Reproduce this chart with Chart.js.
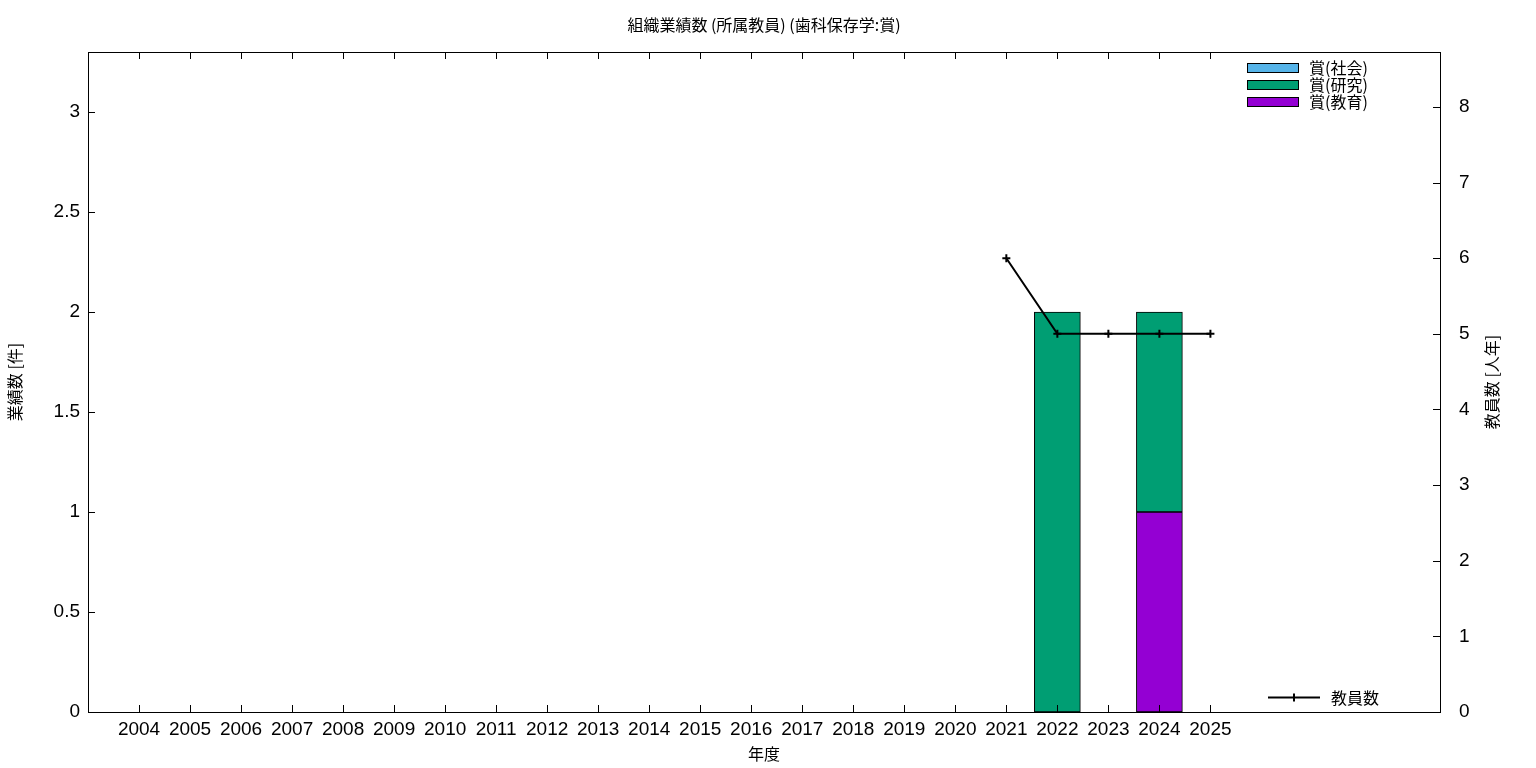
<!DOCTYPE html>
<html>
<head>
<meta charset="utf-8">
<title>組織業績数</title>
<script src="https://cdn.jsdelivr.net/npm/chart.js@4.4.1/dist/chart.umd.min.js"></script>
<style>
  html, body { margin: 0; padding: 0; background: #fff; }
  #wrap { width: 1536px; height: 768px; }
</style>
</head>
<body>
<div id="wrap"><canvas id="grafico"></canvas></div>
<script>
// Datos del gráfico
const anios = [2004, 2005, 2006, 2007, 2008, 2009, 2010, 2011, 2012, 2013, 2014,
               2015, 2016, 2017, 2018, 2019, 2020, 2021, 2022, 2023, 2024, 2025];
const premioSocial    = [0, 0, 0, 0, 0, 0, 0, 0, 0, 0, 0, 0, 0, 0, 0, 0, 0, 0, 0, 0, 0, 0];
const premioInvest    = [0, 0, 0, 0, 0, 0, 0, 0, 0, 0, 0, 0, 0, 0, 0, 0, 0, 0, 2, 0, 1, 0];
const premioEducacion = [0, 0, 0, 0, 0, 0, 0, 0, 0, 0, 0, 0, 0, 0, 0, 0, 0, 0, 0, 0, 1, 0];
const profesores = [null, null, null, null, null, null, null, null, null, null, null,
                    null, null, null, null, null, null, 6, 5, 5, 5, 5];
const ticksIzq = [0, 0.5, 1, 1.5, 2, 2.5, 3];
const ticksDer = [0, 1, 2, 3, 4, 5, 6, 7, 8];

const FUENTE = "'Liberation Sans', 'Noto Sans CJK JP', sans-serif";
const FUENTE_JP = "'Noto Sans CJK JP', sans-serif";

// Pasar un arreglo a puntos {x, y}, omitiendo los vacíos
function puntos(valores, omitirCeros) {
    return anios.map((a, i) => ({ x: a, y: valores[i] }))
        .filter(p => p.y !== null && !(omitirCeros && p.y === 0));
}

const series = [
    { nombre: '賞(社会)', valores: premioSocial, color: '#56b4e9' },
    { nombre: '賞(研究)', valores: premioInvest, color: '#009e73' },
    { nombre: '賞(教育)', valores: premioEducacion, color: '#9400d3' }
];

// Marco, marcas hacia adentro, leyendas y título del eje derecho
const marcoPlugin = {
    id: 'marco',
    afterDraw(chart) {
        const ctx = chart.ctx;
        const a = chart.chartArea;
        const x = chart.scales.x, y = chart.scales.y, y2 = chart.scales.y2;
        ctx.save();
        ctx.strokeStyle = '#000';
        ctx.lineWidth = 1;
        ctx.strokeRect(Math.round(a.left) + 0.5, Math.round(a.top) + 0.5,
                       Math.round(a.right - a.left), Math.round(a.bottom - a.top));
        ctx.beginPath();
        anios.forEach(v => {
            const px = Math.round(x.getPixelForValue(v)) + 0.5;
            ctx.moveTo(px, a.bottom); ctx.lineTo(px, a.bottom - 7);
            ctx.moveTo(px, a.top); ctx.lineTo(px, a.top + 7);
        });
        ticksIzq.forEach(v => {
            const py = Math.round(y.getPixelForValue(v)) + 0.5;
            ctx.moveTo(a.left, py); ctx.lineTo(a.left + 7, py);
        });
        ticksDer.forEach(v => {
            const py = Math.round(y2.getPixelForValue(v)) + 0.5;
            ctx.moveTo(a.right, py); ctx.lineTo(a.right - 7, py);
        });
        ctx.stroke();

        // Leyenda de barras (arriba a la derecha)
        ctx.font = '16px ' + FUENTE_JP;
        ctx.textBaseline = 'middle';
        ctx.textAlign = 'left';
        series.forEach((s, i) => {
            const cy = a.top + 15.5 + i * 17;
            ctx.fillStyle = s.color;
            ctx.fillRect(a.right - 193, cy - 4.5, 51, 9);
            ctx.strokeRect(a.right - 193 + 0.5, cy - 4.5 + 0.5, 51, 9);
            ctx.fillStyle = '#000';
            ctx.fillText(s.nombre, a.right - 131, cy);
        });

        // Leyenda de la línea (abajo a la derecha)
        const ly = Math.round(a.bottom - 15) + 0.5;
        ctx.lineWidth = 2;
        ctx.beginPath();
        ctx.moveTo(a.right - 172, ly); ctx.lineTo(a.right - 120, ly);
        ctx.moveTo(a.right - 146, ly - 4); ctx.lineTo(a.right - 146, ly + 4);
        ctx.stroke();
        ctx.fillText('教員数', a.right - 109, ly);

        // Título del eje derecho
        ctx.save();
        ctx.translate(1492, (a.top + a.bottom) / 2);
        ctx.rotate(-Math.PI / 2);
        ctx.textAlign = 'center';
        ctx.font = '16px ' + FUENTE_JP;
        ctx.fillText('教員数 [人年]', 0, 0);
        ctx.restore();
        ctx.restore();
    }
};

const datasets = [];
// Orden de apilado: educación abajo, luego investigación, luego social
[series[2], series[1], series[0]].forEach(s => {
    datasets.push({
        type: 'bar',
        label: s.nombre,
        data: puntos(s.valores, true),
        backgroundColor: s.color,
        borderColor: '#000',
        borderWidth: 1,
        borderSkipped: false,
        barThickness: 46,
        grouped: false,
        yAxisID: 'y',
        order: 2
    });
});
datasets.push({
    type: 'line',
    label: '教員数',
    data: puntos(profesores, false),
    borderColor: '#000',
    borderWidth: 2,
    pointStyle: 'cross',
    pointRadius: 4,
    pointBorderWidth: 2,
    pointBorderColor: '#000',
    fill: false,
    tension: 0,
    yAxisID: 'y2',
    order: 1
});

const ctx = document.getElementById('grafico').getContext('2d');
new Chart(ctx, {
    type: 'bar',
    data: { datasets: datasets },
    options: {
        responsive: true,
        maintainAspectRatio: false,
        animation: false,
        layout: { padding: 0 },
        plugins: {
            legend: { display: false },
            tooltip: { enabled: false },
            title: {
                display: true,
                text: '組織業績数 (所属教員) (歯科保存学:賞)',
                color: '#000',
                fullSize: false,
                font: { family: FUENTE_JP, size: 16, weight: 'normal', lineHeight: 1.2 },
                padding: { top: 15, bottom: 17.8 }
            }
        },
        scales: {
            x: {
                type: 'linear',
                min: 2003,
                max: 2029.5,
                offset: false,
                grid: { display: false, tickLength: 0 },
                border: { display: false },
                afterBuildTicks: s => { s.ticks = anios.map(v => ({ value: v })); },
                afterFit: s => { s.height = 56; },
                ticks: {
                    autoSkip: false,
                    maxRotation: 0,
                    padding: 6,
                    color: '#000',
                    font: { family: FUENTE, size: 19 },
                    callback: v => String(v)
                },
                title: {
                    display: true,
                    text: '年度',
                    color: '#000',
                    font: { family: FUENTE_JP, size: 16 },
                    padding: { top: 0, bottom: 4 }
                }
            },
            y: {
                position: 'left',
                stacked: true,
                min: 0,
                max: 3.3,
                grid: { display: false, tickLength: 0 },
                border: { display: false },
                afterBuildTicks: s => { s.ticks = ticksIzq.map(v => ({ value: v })); },
                afterFit: s => { s.width = 88; },
                ticks: {
                    padding: 8,
                    color: '#000',
                    font: { family: FUENTE, size: 19 },
                    callback: v => String(v)
                },
                title: {
                    display: true,
                    text: '業績数 [件]',
                    color: '#000',
                    font: { family: FUENTE_JP, size: 16 },
                    padding: { top: 5, bottom: 0 }
                }
            },
            y2: {
                position: 'right',
                min: 0,
                max: 8.727,
                grid: { display: false, tickLength: 0 },
                border: { display: false },
                afterBuildTicks: s => { s.ticks = ticksDer.map(v => ({ value: v })); },
                afterFit: s => { s.width = 96; },
                ticks: {
                    padding: 19,
                    color: '#000',
                    font: { family: FUENTE, size: 19 },
                    callback: v => String(v)
                }
            }
        }
    },
    plugins: [marcoPlugin]
});
</script>
</body>
</html>
